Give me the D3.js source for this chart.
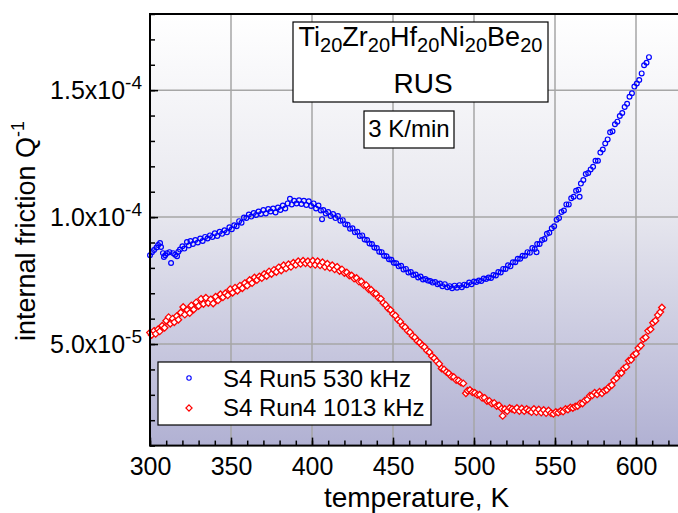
<!DOCTYPE html>
<html>
<head>
<meta charset="utf-8">
<script src="https://cdn.jsdelivr.net/npm/d3@7"></script>
<style>
  html, body { margin: 0; padding: 0; background: #fff; }
  svg { display: block; font-family: "Liberation Sans", Arial, sans-serif; }
</style>
</head>
<body>
<svg id="chart" width="678" height="513"></svg>
<script>
// Internal friction Q^-1 vs temperature; Q values are given in units of 1e-5.
const qUnit = 1e-5;

// S4 Run5, 530 kHz: [temperature K, Q^-1 / 1e-5]
const run5 = [
  [300.0,8.50],[301.2,8.62],[302.5,8.70],[304.0,8.80],[305.0,8.90],[306.2,8.98],[306.8,8.82],[308.0,8.58],
  [308.6,8.43],[309.4,8.50],[310.5,8.58],[312.0,8.62],[313.0,8.19],[314.2,8.58],[315.5,8.52],[316.7,8.46],
  [317.5,8.64],[318.5,8.72],[320.0,8.85],[321.2,8.76],[322.8,9.02],[324.0,8.88],[325.0,9.06],[326.5,8.94],
  [328.0,9.10],[329.5,9.00],[331.0,9.16],[332.5,9.06],[334.0,9.22],[335.5,9.16],[337.0,9.28],[338.5,9.22],
  [340.0,9.36],[341.5,9.26],[343.0,9.42],[344.5,9.34],[346.0,9.48],[347.5,9.40],[349.0,9.60],[350.5,9.52],
  [352.0,9.68],[353.5,9.64],[355.0,9.84],[356.5,9.78],[358.0,9.98],[359.5,9.96],[361.0,10.10],[362.5,10.02],
  [364.0,10.16],[365.5,10.08],[367.0,10.22],[368.5,10.12],[370.0,10.28],[371.5,10.14],[373.0,10.32],[374.5,10.22],
  [376.0,10.34],[377.5,10.18],[379.0,10.38],[380.5,10.28],[382.0,10.46],[383.5,10.34],[385.0,10.54],[386.4,10.72],
  [387.5,10.50],[389.0,10.64],[390.5,10.54],[392.0,10.66],[393.5,10.52],[395.0,10.64],[396.5,10.48],[398.0,10.62],
  [399.5,10.44],[401.0,10.54],[402.5,10.34],[404.0,10.46],[405.5,10.26],[406.2,9.92],[407.0,10.28],[408.5,10.14],
  [410.0,10.20],[411.5,10.04],[413.0,10.12],[414.5,9.96],[416.0,10.04],[417.5,9.86],[419.0,9.88],[420.5,9.72],
  [422.0,9.70],[423.5,9.54],[425.0,9.56],[426.5,9.40],[428.0,9.42],[429.5,9.26],[431.0,9.28],[432.5,9.12],
  [434.0,9.10],[435.5,8.96],[437.0,8.94],[438.5,8.80],[440.0,8.78],[441.5,8.64],[443.0,8.62],[444.5,8.48],
  [446.0,8.46],[447.5,8.34],[449.0,8.32],[450.5,8.20],[452.0,8.18],[453.5,8.06],[455.0,8.08],[456.5,7.94],
  [458.0,7.96],[459.5,7.82],[461.0,7.84],[462.5,7.72],[464.0,7.74],[465.5,7.62],[467.0,7.66],[468.5,7.54],
  [470.0,7.56],[471.5,7.50],[473.0,7.48],[474.5,7.42],[476.0,7.44],[477.5,7.36],[479.0,7.38],[480.5,7.28],
  [482.0,7.36],[483.5,7.24],[485.0,7.28],[486.5,7.20],[488.0,7.30],[489.5,7.22],[491.0,7.32],[492.5,7.24],
  [494.0,7.34],[495.5,7.32],[497.0,7.42],[498.5,7.36],[500.0,7.46],[501.5,7.44],[503.0,7.50],[504.5,7.48],
  [506.0,7.58],[507.5,7.56],[509.0,7.62],[510.5,7.60],[512.0,7.72],[513.5,7.70],[515.0,7.84],[516.5,7.82],
  [518.0,7.96],[519.5,7.96],[521.0,8.10],[522.5,8.06],[524.0,8.22],[525.5,8.22],[527.0,8.36],[528.5,8.36],
  [530.0,8.48],[531.5,8.48],[533.0,8.62],[534.5,8.60],[536.0,8.78],[537.5,8.74],[538.6,8.62],[539.0,8.94],
  [540.5,8.94],[542.0,9.10],[543.5,9.14],[545.0,9.34],[546.5,9.38],[548.0,9.56],[549.5,9.64],[551.0,9.90],
  [552.5,9.96],[554.0,10.20],[555.5,10.26],[557.0,10.50],[558.5,10.50],[560.0,10.74],[561.5,10.80],[563.0,11.04],
  [564.5,11.08],[565.2,10.80],[566.0,11.32],[567.5,11.46],[569.0,11.70],[570.5,11.74],[572.0,11.88],[573.5,11.98],
  [575.0,12.22],[576.5,12.22],[578.0,12.54],[579.5,12.66],[581.0,12.90],[582.5,13.06],[584.0,13.34],[585.5,13.38],
  [587.0,13.66],[588.5,13.76],[590.0,13.98],[591.5,14.10],[593.0,14.34],[594.5,14.46],[596.0,14.74],[597.5,14.88],
  [599.0,15.14],[600.5,15.26],[602.0,15.40],[603.5,15.66],[605.0,15.98],[606.5,16.08],[608.0,16.30]
];

// S4 Run4, 1013 kHz: [temperature K, Q^-1 / 1e-5]
const run4 = [
  [300.0,5.45],[301.0,5.36],[302.5,5.52],[303.5,5.40],[305.0,5.58],[306.0,5.50],[307.5,5.72],[309.0,5.64],
  [310.0,5.92],[311.5,6.06],[312.5,5.80],[314.0,6.00],[315.0,5.86],[316.5,6.10],[317.5,5.96],[319.0,6.24],
  [320.5,6.46],[321.5,6.16],[323.0,6.34],[324.5,6.22],[325.5,6.52],[327.0,6.36],[328.5,6.64],[330.0,6.50],
  [331.5,6.78],[333.0,6.58],[334.5,6.82],[336.0,6.62],[337.5,6.76],[339.0,6.60],[340.5,6.86],[342.0,6.72],
  [343.5,6.96],[345.0,6.84],[346.5,7.00],[348.0,6.92],[349.5,7.16],[351.0,7.02],[352.5,7.22],[354.0,7.10],
  [355.5,7.30],[357.0,7.20],[358.5,7.40],[360.0,7.30],[361.5,7.52],[363.0,7.40],[364.5,7.62],[366.0,7.52],
  [367.5,7.66],[369.0,7.60],[370.5,7.76],[372.0,7.68],[373.5,7.86],[375.0,7.76],[376.5,7.92],[378.0,7.84],
  [379.5,8.02],[381.0,7.90],[382.5,8.10],[384.0,7.98],[385.5,8.14],[387.0,8.04],[388.5,8.20],[390.0,8.12],
  [391.5,8.26],[393.0,8.16],[394.5,8.28],[396.0,8.18],[397.5,8.26],[399.0,8.14],[400.5,8.28],[402.0,8.12],
  [403.5,8.26],[405.0,8.10],[406.5,8.22],[408.0,8.04],[409.5,8.16],[411.0,8.00],[412.5,8.10],[414.0,7.94],
  [415.5,8.04],[417.0,7.88],[418.5,7.94],[420.0,7.80],[421.5,7.82],[423.0,7.70],[424.5,7.70],[426.0,7.58],
  [427.5,7.60],[429.0,7.46],[430.5,7.46],[432.0,7.32],[433.5,7.32],[435.0,7.16],[436.5,7.14],[438.0,7.00],
  [439.5,6.98],[441.0,6.82],[442.5,6.78],[444.0,6.62],[445.5,6.54],[447.0,6.40],[448.5,6.34],[450.0,6.18],
  [451.5,6.12],[453.0,5.96],[454.5,5.88],[456.0,5.72],[457.5,5.66],[459.0,5.52],[460.5,5.46],[462.0,5.32],
  [463.5,5.26],[465.0,5.12],[466.5,5.06],[468.0,4.94],[469.5,4.88],[471.0,4.74],[472.5,4.68],[474.0,4.52],
  [475.5,4.44],[477.0,4.32],[478.5,4.22],[480.0,4.04],[481.5,4.00],[483.0,3.90],[484.5,3.84],[486.0,3.72],
  [487.5,3.70],[489.0,3.58],[490.5,3.56],[492.0,3.48],[493.4,3.45],[495.0,3.06],[496.0,3.16],[497.5,3.19],
  [499.0,3.10],[500.5,3.08],[502.0,3.00],[503.5,3.00],[505.0,2.88],[506.5,2.88],[508.0,2.76],[509.5,2.76],
  [511.0,2.66],[512.5,2.68],[514.0,2.56],[515.5,2.58],[517.0,2.46],[517.7,2.17],[519.0,2.44],[520.5,2.36],
  [522.0,2.48],[523.5,2.44],[525.0,2.40],[526.5,2.48],[528.0,2.36],[529.5,2.46],[531.0,2.36],[532.5,2.44],
  [534.0,2.38],[535.5,2.32],[537.0,2.44],[538.5,2.32],[540.0,2.42],[541.5,2.30],[543.0,2.40],[544.5,2.28],
  [546.0,2.38],[547.5,2.28],[549.0,2.25],[550.5,2.32],[552.0,2.30],[553.5,2.36],[555.0,2.34],[556.5,2.44],
  [558.0,2.42],[559.5,2.50],[561.0,2.48],[562.5,2.54],[564.0,2.56],[565.5,2.66],[567.0,2.66],[568.5,2.78],
  [570.0,2.82],[571.5,2.96],[573.0,2.98],[574.5,3.08],[576.0,3.02],[577.5,3.12],[579.0,3.06],[580.5,3.16],
  [582.0,3.20],[583.5,3.32],[585.0,3.38],[586.5,3.58],[588.0,3.66],[589.5,3.84],[591.0,3.86],[592.5,4.04],
  [594.0,4.10],[595.5,4.34],[597.0,4.38],[598.5,4.56],[600.0,4.62],[601.5,4.84],[603.0,4.94],[604.5,5.20],
  [606.0,5.26],[607.5,5.52],[609.0,5.58],[610.5,5.84],[612.0,5.92],[613.5,6.14],[615.0,6.26],[616.0,6.44]
];

const xTicks = [300, 350, 400, 450, 500, 550, 600];
const yTicks = [5e-5, 1e-4, 1.5e-4];
const yTickLabels = [["5.0x10", "-5"], ["1.0x10", "-4"], ["1.5x10", "-4"]];
const legendLabels = ["S4 Run5 530 kHz", "S4 Run4 1013 kHz"];
const formula = [["Ti", "20"], ["Zr", "20"], ["Hf", "20"], ["Ni", "20"], ["Be", "20"]];
const subtitle = "RUS";
const rateLabel = "3 K/min";
const colors = { run5: "#0000ff", run4: "#ff0000" };

const svg = d3.select("#chart");
const plot = { left: 150, top: 14, right: 700.8, bottom: 445.6 };

const x = d3.scaleLinear().domain([300, 640]).range([plot.left, plot.right]);
const y = d3.scaleLinear().domain([1e-5, 1.8e-4]).range([plot.bottom, plot.top]);

// background gradient of the plotting area
const defs = svg.append("defs");
const grad = defs.append("linearGradient").attr("id", "bg")
  .attr("x1", 0).attr("y1", 0).attr("x2", 0).attr("y2", 1);
grad.append("stop").attr("offset", "0%").attr("stop-color", "#ffffff");
grad.append("stop").attr("offset", "45%").attr("stop-color", "#e8e8ef");
grad.append("stop").attr("offset", "100%").attr("stop-color", "#b1b1d3");

svg.append("rect")
  .attr("x", plot.left).attr("y", plot.top)
  .attr("width", plot.right - plot.left).attr("height", plot.bottom - plot.top)
  .attr("fill", "url(#bg)");

// grid
const grid = svg.append("g").attr("stroke", "#a6a6a6").attr("stroke-width", 1.5);
grid.selectAll("line.vx").data(xTicks.slice(1)).join("line")
  .attr("x1", d => x(d)).attr("x2", d => x(d))
  .attr("y1", plot.top).attr("y2", plot.bottom);
grid.selectAll("line.hy").data(yTicks).join("line")
  .attr("y1", d => y(d)).attr("y2", d => y(d))
  .attr("x1", plot.left).attr("x2", plot.right);

// data
const marks = svg.append("g");
marks.append("g").selectAll("circle").data(run5).join("circle")
  .attr("cx", d => x(d[0])).attr("cy", d => y(d[1] * qUnit))
  .attr("r", 2.4).attr("fill", "none")
  .attr("stroke", colors.run5).attr("stroke-width", 1.2);

const diamond = s => `M0,${-s}L${s},0L0,${s}L${-s},0Z`;
marks.append("g").selectAll("path").data(run4).join("path")
  .attr("d", diamond(3.3))
  .attr("transform", d => `translate(${x(d[0])},${y(d[1] * qUnit)})`)
  .attr("fill", "#ffffff")
  .attr("stroke", colors.run4).attr("stroke-width", 1.3);

// axes: ticks point inward
const xMinor = d3.range(300, 641, 10);
const yMinor = d3.range(1e-5, 1.8e-4 + 1e-12, 1e-5);

const xAxisMinor = svg.append("g").attr("transform", `translate(0,${plot.bottom})`)
  .call(d3.axisBottom(x).tickValues(xMinor).tickSize(-5).tickFormat(""));
const xAxis = svg.append("g").attr("transform", `translate(0,${plot.bottom})`)
  .call(d3.axisBottom(x).tickValues(xTicks).tickSize(-8).tickPadding(12).tickFormat(d3.format("d")));
const yAxisMinor = svg.append("g").attr("transform", `translate(${plot.left},0)`)
  .call(d3.axisLeft(y).tickValues(yMinor).tickSize(-5).tickFormat(""));
const yAxis = svg.append("g").attr("transform", `translate(${plot.left},0)`)
  .call(d3.axisLeft(y).tickValues(yTicks).tickSize(-8).tickFormat(""));

[xAxisMinor, xAxis, yAxisMinor, yAxis].forEach(g => {
  g.select(".domain").remove();
  g.selectAll(".tick line").attr("stroke", "#000").attr("stroke-width", 1.5);
});
xAxis.selectAll(".tick text")
  .attr("font-size", 25).attr("fill", "#000")
  .attr("font-family", "Liberation Sans, Arial, sans-serif");

// y tick labels with exponent
yAxis.selectAll(".tick").each(function (d, i) {
  const t = d3.select(this).append("text")
    .attr("x", -8).attr("y", 8)
    .attr("text-anchor", "end").attr("fill", "#000")
    .attr("font-family", "Liberation Sans, Arial, sans-serif")
    .attr("font-size", 25);
  t.append("tspan").text(yTickLabels[i][0]);
  t.append("tspan").attr("font-size", 19).attr("dy", -10).text(yTickLabels[i][1]);
});

// frame
svg.append("rect")
  .attr("x", plot.left).attr("y", plot.top)
  .attr("width", plot.right - plot.left).attr("height", plot.bottom - plot.top)
  .attr("fill", "none").attr("stroke", "#000").attr("stroke-width", 2);

// axis titles
svg.append("text")
  .attr("x", 416.5).attr("y", 507)
  .attr("text-anchor", "middle").attr("font-size", 28).attr("fill", "#000")
  .text("temperature, K");

const yTitle = svg.append("text")
  .attr("transform", "translate(35,231) rotate(-90)")
  .attr("text-anchor", "middle").attr("font-size", 27).attr("fill", "#000");
yTitle.append("tspan").text("internal friction Q");
yTitle.append("tspan").attr("font-size", 18).attr("dy", -11).text("-1");

// composition box
svg.append("rect").attr("x", 293).attr("y", 22).attr("width", 255).attr("height", 80)
  .attr("fill", "#fff").attr("stroke", "#000").attr("stroke-width", 1.2);
const f = svg.append("text").attr("x", 420.5).attr("y", 52)
  .attr("text-anchor", "middle").attr("font-size", 27).attr("fill", "#000");
formula.forEach(([el, n]) => {
  f.append("tspan").attr("dy", f.selectAll("tspan").size() ? -6.5 : 0).text(el);
  f.append("tspan").attr("font-size", 20).attr("dy", 6.5).text(n);
});
svg.append("text").attr("x", 423).attr("y", 93)
  .attr("text-anchor", "middle").attr("font-size", 28).attr("fill", "#000")
  .text(subtitle);

// heating rate box
svg.append("rect").attr("x", 364).attr("y", 111).attr("width", 90).attr("height", 37)
  .attr("fill", "#fff").attr("stroke", "#000").attr("stroke-width", 1.2);
svg.append("text").attr("x", 409).attr("y", 137)
  .attr("text-anchor", "middle").attr("font-size", 24).attr("fill", "#000")
  .text(rateLabel);

// legend
const lg = svg.append("g");
lg.append("rect").attr("x", 158).attr("y", 362).attr("width", 273).attr("height", 63)
  .attr("fill", "#fff").attr("stroke", "#000").attr("stroke-width", 1.2);
lg.append("circle").attr("cx", 189).attr("cy", 378).attr("r", 2.2)
  .attr("fill", "none").attr("stroke", colors.run5).attr("stroke-width", 1.1);
lg.append("path").attr("d", diamond(3.1)).attr("transform", "translate(189,408)")
  .attr("fill", "#fff").attr("stroke", colors.run4).attr("stroke-width", 1.2);
lg.selectAll("text").data(legendLabels).join("text")
  .attr("x", 223).attr("y", (d, i) => 387 + i * 28.5)
  .attr("font-size", 24).attr("fill", "#000")
  .text(d => d);
</script>
</body>
</html>
